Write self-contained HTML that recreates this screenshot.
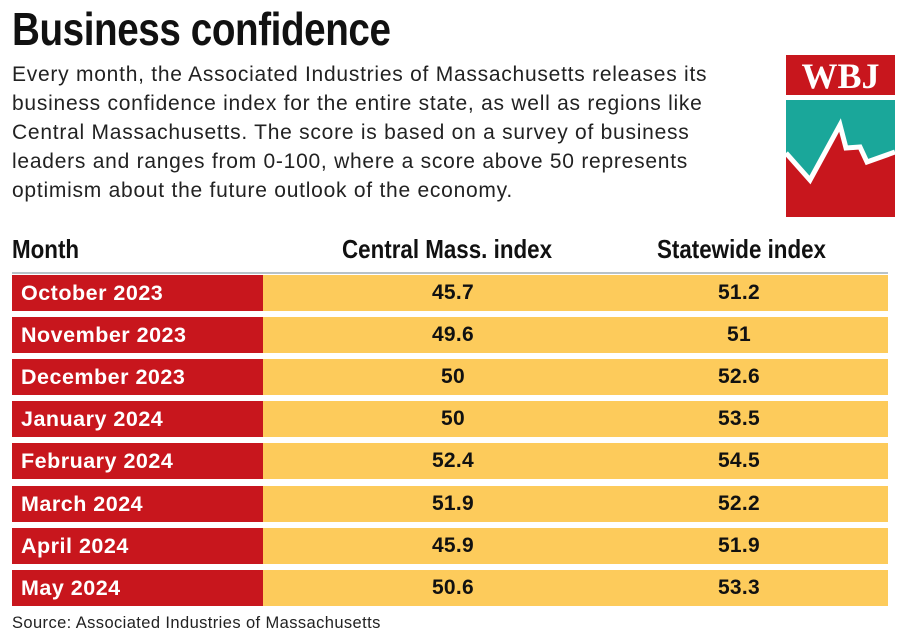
<!DOCTYPE html>
<html><head><meta charset="utf-8"><style>
body{margin:0;width:900px;height:638px;background:#fff;font-family:"Liberation Sans",sans-serif;position:relative;overflow:hidden;color:#1a1a1a}
.t{position:absolute;left:12px;top:2px;font-weight:bold;font-size:46px;letter-spacing:-0.5px;color:#111;transform:scaleX(0.84);transform-origin:0 0;white-space:nowrap}
.p{position:absolute;left:12px;top:60px;width:750px;font-size:21px;letter-spacing:0.75px;line-height:29px;color:#222}
.h{position:absolute;top:234px;font-weight:bold;font-size:26px;color:#111;transform:scaleX(0.86);transform-origin:0 0;white-space:nowrap}
.line{position:absolute;left:12px;top:272px;width:876px;height:2px;background:#b8c2c8}
.r{position:absolute;left:12px;width:876px;height:36px;background:#fdcb5b}
.r .m{position:absolute;left:0;top:0;width:251px;height:36px;background:#c8161d;color:#fff;font-weight:bold;font-size:21.5px;letter-spacing:0.5px;line-height:36px;padding-left:9px;box-sizing:border-box}
.r .a,.r .b{position:absolute;top:0;line-height:36px;font-weight:bold;font-size:21px;letter-spacing:0.3px;color:#111;width:120px;text-align:center}
.r .a{left:381px}.r .b{left:667px}
.s{position:absolute;left:12px;top:614px;font-size:16.5px;letter-spacing:0.4px;color:#222}
</style></head><body>
<div class="t">Business confidence</div>
<div class="p">Every month, the Associated Industries of Massachusetts releases its business confidence index for the entire state, as well as regions like Central Massachusetts. The score is based on a survey of business leaders and ranges from 0-100, where a score above 50 represents optimism about the future outlook of the economy.</div>
<svg style="position:absolute;left:786px;top:55px" width="109" height="162" viewBox="0 0 109 162">
<rect x="0" y="0" width="109" height="40" fill="#c8161d"/>
<text x="54.5" y="33" text-anchor="middle" font-family="Liberation Serif,serif" font-weight="bold" font-size="36" fill="#fff">WBJ</text>
<rect x="0" y="45" width="109" height="117" fill="#1aa79a"/>
<polygon points="0,98 24,125 54,70 60,93 74,92 81,107 109,97 109,162 0,162" fill="#c8161d"/>
<polyline points="0,98 24,125 54,70 60,93 74,92 81,107 109,97" fill="none" stroke="#fff" stroke-width="5"/>
</svg>
<div class="h" style="left:12px">Month</div>
<div class="h" style="left:342px">Central Mass. index</div>
<div class="h" style="left:657px">Statewide index</div>
<div class="line"></div>
<div class="r" style="top:275px"><div class="m">October 2023</div><div class="a">45.7</div><div class="b">51.2</div></div>
<div class="r" style="top:317px"><div class="m">November 2023</div><div class="a">49.6</div><div class="b">51</div></div>
<div class="r" style="top:359px"><div class="m">December 2023</div><div class="a">50</div><div class="b">52.6</div></div>
<div class="r" style="top:401px"><div class="m">January 2024</div><div class="a">50</div><div class="b">53.5</div></div>
<div class="r" style="top:443px"><div class="m">February 2024</div><div class="a">52.4</div><div class="b">54.5</div></div>
<div class="r" style="top:486px"><div class="m">March 2024</div><div class="a">51.9</div><div class="b">52.2</div></div>
<div class="r" style="top:528px"><div class="m">April 2024</div><div class="a">45.9</div><div class="b">51.9</div></div>
<div class="r" style="top:570px"><div class="m">May 2024</div><div class="a">50.6</div><div class="b">53.3</div></div>
<div class="s">Source: Associated Industries of Massachusetts</div>
</body></html>
